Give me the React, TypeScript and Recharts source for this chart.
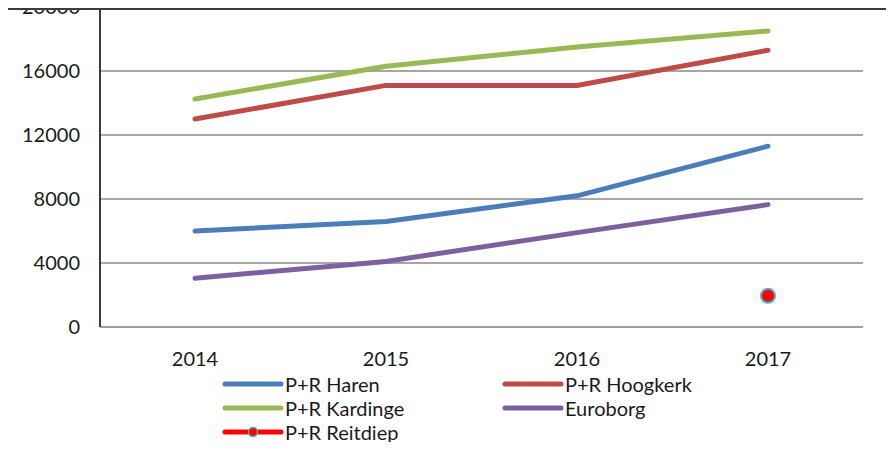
import React from "react";
import { LineChart, Line, XAxis, YAxis, CartesianGrid, Legend } from "recharts";

const years = ["2014", "2015", "2016", "2017"];
const haren = [6000, 6600, 8200, 11300];
const hoogkerk = [13000, 15100, 15100, 17300];
const kardinge = [14250, 16300, 17500, 18500];
const euroborg = [3050, 4100, 5900, 7650];
const reitdiep: (number | null)[] = [null, null, null, 1950];
const yTicks = [0, 4000, 8000, 12000, 16000, 20000];
const legendOrder = ["haren", "hoogkerk", "kardinge", "euroborg", "reitdiep"];

const data = years.map((year, i) => ({
  year,
  haren: haren[i],
  hoogkerk: hoogkerk[i],
  kardinge: kardinge[i],
  euroborg: euroborg[i],
  reitdiep: reitdiep[i],
}));

const FONT = "Lato, 'Open Sans', sans-serif";

function renderLegend(props: any) {
  const items = [...(props.payload || [])].sort(
    (a: any, b: any) => legendOrder.indexOf(a.dataKey) - legendOrder.indexOf(b.dataKey)
  );
  return (
    <div style={{ position: "relative", width: 863, height: 72, fontFamily: FONT, fontSize: 20, color: "#1a1a1a" }}>
      {items.map((item: any, i: number) => {
        const col = i % 2;
        const row = Math.floor(i / 2);
        const left = col === 0 ? 222 : 502;
        const isDot = item.dataKey === "reitdiep";
        return (
          <div
            key={item.value}
            style={{ position: "absolute", left, top: row * 24, height: 24, display: "flex", alignItems: "center" }}
          >
            <svg width={62} height={24} style={{ display: "block" }}>
              <line x1={3} y1={12} x2={59} y2={12} stroke={item.color} strokeWidth={5} strokeLinecap="round" />
              {isDot && <circle cx={31} cy={12} r={4.5} fill="#ff0000" stroke="#4bacc6" strokeWidth={1.5} />}
            </svg>
            <span style={{ marginLeft: 1, lineHeight: "24px", whiteSpace: "nowrap" }}>{item.value}</span>
          </div>
        );
      })}
    </div>
  );
}

export default function App() {
  return (
    <div style={{ position: "relative", width: 894, height: 450, margin: -8, background: "#fff", fontFamily: FONT, overflow: "hidden" }}>
      <div style={{ position: "absolute", left: 0, top: 0, width: 8, height: 450, background: "#f2f2f2" }} />
      <LineChart width={894} height={450} data={data} margin={{ top: 7, right: 31, left: 0, bottom: 6 }}>
        <CartesianGrid vertical={false} stroke="#a6a6a6" strokeWidth={2} />
        <XAxis
          dataKey="year"
          height={45}
          padding={{ left: 95, right: 95 }}
          tickLine={false}
          tickSize={6}
          tickMargin={19}
          axisLine={{ stroke: "#a0a0a0", strokeWidth: 2 }}
          tick={{ fill: "#1a1a1a", fontSize: 20, fontFamily: FONT }}
        />
        <YAxis
          width={100}
          domain={[0, 20000]}
          ticks={yTicks}
          interval={0}
          tickLine={false}
          tickSize={6}
          tickMargin={14}
          axisLine={{ stroke: "#3a3a3a", strokeWidth: 2 }}
          tick={{ fill: "#1a1a1a", fontSize: 20, fontFamily: FONT }}
        />
        <Legend verticalAlign="bottom" content={renderLegend} wrapperStyle={{ left: 0 }} />
        <Line name="P+R Haren" dataKey="haren" stroke="#4a7ebb" strokeWidth={5} strokeLinecap="round" dot={false} isAnimationActive={false} />
        <Line name="P+R Hoogkerk" dataKey="hoogkerk" stroke="#be4b48" strokeWidth={5} strokeLinecap="round" dot={false} isAnimationActive={false} />
        <Line name="P+R Kardinge" dataKey="kardinge" stroke="#98b954" strokeWidth={5} strokeLinecap="round" dot={false} isAnimationActive={false} />
        <Line name="Euroborg" dataKey="euroborg" stroke="#7d60a0" strokeWidth={5} strokeLinecap="round" dot={false} isAnimationActive={false} />
        <Line
          name="P+R Reitdiep"
          dataKey="reitdiep"
          stroke="#ff0000"
          strokeWidth={5}
          dot={{ r: 7, fill: "#ff0000", stroke: "#4bacc6", strokeWidth: 2 }}
          isAnimationActive={false}
        />
      </LineChart>
      <div style={{ position: "absolute", left: 0, top: 0, width: 894, height: 10, background: "#3c3c3c" }} />
    </div>
  );
}
